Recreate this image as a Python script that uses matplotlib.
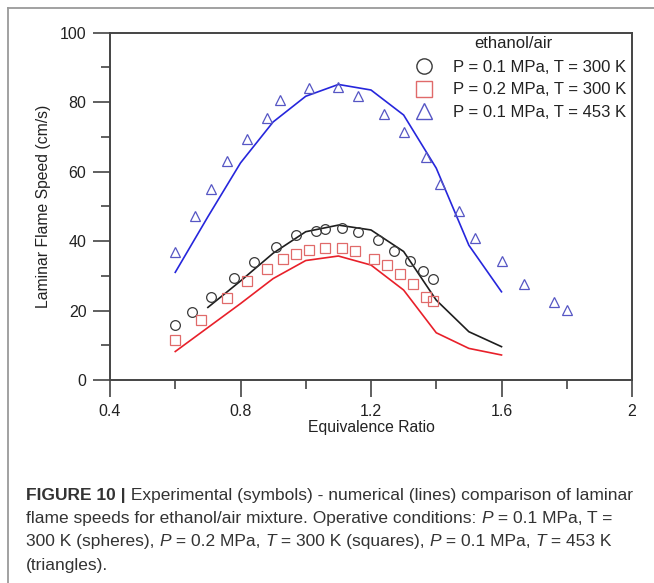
import matplotlib
matplotlib.use("Agg")
import matplotlib.pyplot as plt
from matplotlib.lines import Line2D
import numpy as np

plt.rcParams['font.family'] = ['Liberation Sans', 'DejaVu Sans']

# experimental points (symbols)
phi_c = [0.6, 0.65, 0.71, 0.78, 0.84, 0.91, 0.97, 1.03, 1.06, 1.11, 1.16, 1.22, 1.27, 1.32, 1.36, 1.39]
sl_c = [15.7, 19.7, 24.0, 29.5, 34.0, 38.2, 41.8, 43.0, 43.6, 43.9, 42.6, 40.3, 37.1, 34.3, 31.5, 29.1]

phi_s = [0.6, 0.68, 0.76, 0.82, 0.88, 0.93, 0.97, 1.01, 1.06, 1.11, 1.15, 1.21, 1.25, 1.29, 1.33, 1.37, 1.39]
sl_s = [11.5, 17.2, 23.5, 28.4, 31.9, 34.7, 36.3, 37.4, 38.1, 38.1, 37.1, 34.7, 33.2, 30.5, 27.5, 24.0, 22.7]

phi_t = [0.6, 0.66, 0.71, 0.76, 0.82, 0.88, 0.92, 1.01, 1.1, 1.16, 1.24, 1.3, 1.37, 1.41, 1.47,
         1.52, 1.6, 1.67, 1.76, 1.8]
sl_t = [36.9, 47.2, 54.9, 63.1, 69.4, 75.5, 80.6, 84.1, 84.3, 81.8, 76.7, 71.3, 64.3, 56.3, 48.6,
        41.0, 34.4, 27.6, 22.5, 20.1]

# numerical results (lines)
phi_k = [0.7, 0.8, 0.9, 1.0, 1.1, 1.2, 1.3, 1.4, 1.5, 1.6]
sl_k = [20.9, 28.5, 36.5, 42.7, 44.6, 43.2, 37.0, 23.0, 13.9, 9.6]

phi_r = [0.6, 0.7, 0.8, 0.9, 1.0, 1.1, 1.2, 1.3, 1.4, 1.5, 1.6]
sl_r = [8.2, 15.1, 22.0, 29.2, 34.4, 35.7, 33.1, 25.9, 13.6, 9.1, 7.2]

phi_b = [0.6, 0.7, 0.8, 0.9, 1.0, 1.1, 1.2, 1.3, 1.4, 1.5, 1.6]
sl_b = [31.0, 47.0, 62.5, 74.3, 81.7, 85.1, 83.5, 76.3, 61.0, 38.8, 25.4]

legend_title = 'ethanol/air'
legend_labels = ['P = 0.1 MPa, T = 300 K', 'P = 0.2 MPa, T = 300 K', 'P = 0.1 MPa, T = 453 K']

W, H = 654, 583
fig = plt.figure(figsize=(W / 100, H / 100), dpi=100)
ax = fig.add_axes([110 / W, 1 - 380 / H, 522 / W, (380 - 32.7) / H])

c_blk, c_red, c_blu = '#1e1e1e', '#e8202a', '#2626dc'
m_blk, m_red, m_blu = '#3a3a3a', '#e06a6a', '#5656c4'

ax.plot(phi_k, sl_k, color=c_blk, lw=1.2)
ax.plot(phi_r, sl_r, color=c_red, lw=1.2)
ax.plot(phi_b, sl_b, color=c_blu, lw=1.2)
ax.plot(phi_c, sl_c, 'o', ms=7, mfc='none', mec=m_blk, mew=0.9)
ax.plot(phi_s, sl_s, 's', ms=7, mfc='none', mec=m_red, mew=0.9)
ax.plot(phi_t, sl_t, '^', ms=6.5, mfc='none', mec=m_blu, mew=0.9)

ax.set_xlim(0.4, 2.0)
ax.set_ylim(0, 100)
ax.set_xticks([0.4, 0.8, 1.2, 1.6, 2.0])
ax.set_xticklabels(['0.4', '0.8', '1.2', '1.6', '2'])
ax.set_xticks(np.arange(0.6, 2.0, 0.4), minor=True)
ax.set_yticks(range(0, 101, 20))
ax.set_yticks(range(10, 100, 20), minor=True)
ax.tick_params(which='major', direction='out', length=12, width=1.2, color='#444',
               labelsize=11.5, labelcolor='#222', pad=5)
ax.tick_params(which='minor', direction='out', length=6.5, width=1.2, color='#444')
for s in ax.spines.values():
    s.set_color('#444')
    s.set_linewidth(1.4)

ax.set_xlabel('Equivalence Ratio', fontsize=11.3, color='#222', labelpad=1)
ax.set_ylabel('Laminar Flame Speed (cm/s)', fontsize=11.3, color='#222', labelpad=6)

handles = [
    Line2D([], [], ls='none', marker='o', ms=11, mfc='none', mec=m_blk, mew=1.0),
    Line2D([], [], ls='none', marker='s', ms=11, mfc='none', mec=m_red, mew=1.0),
    Line2D([], [], ls='none', marker='^', ms=11, mfc='none', mec=m_blu, mew=1.0),
]
leg = ax.legend(handles, legend_labels, loc='upper right',
                bbox_to_anchor=((626 - 110) / 522, (380 - 60) / 347.3),
                frameon=False, fontsize=12,
                handlelength=1.2, handletextpad=1.1, labelspacing=0.45,
                borderaxespad=0, borderpad=0)
for t in leg.get_texts():
    t.set_color('#222')
ax.text((513 - 110) / 522, (380 - 43) / 347.3, legend_title, transform=ax.transAxes,
        ha='center', va='center', fontsize=12, color='#222')

# outer frame of the figure panel
fig.add_artist(Line2D([8 / W, 8 / W], [0, 1 - 8 / H], transform=fig.transFigure, color='#9a9a9a', lw=1.3))
fig.add_artist(Line2D([8 / W, 1], [1 - 8 / H, 1 - 8 / H], transform=fig.transFigure, color='#9a9a9a', lw=1.3))

# caption, drawn piece by piece so bold and italic parts fit in line
cap_lines = [
    [('FIGURE 10 |', 'bold'), (' Experimental (symbols) - numerical (lines) comparison of laminar', 'normal')],
    [('flame speeds for ethanol/air mixture. Operative conditions: ', 'normal'), ('P', 'italic'),
     (' = 0.1 MPa, T =', 'normal')],
    [('300 K (spheres), ', 'normal'), ('P', 'italic'), (' = 0.2 MPa, ', 'normal'), ('T', 'italic'),
     (' = 300 K (squares), ', 'normal'), ('P', 'italic'), (' = 0.1 MPa, ', 'normal'), ('T', 'italic'),
     (' = 453 K', 'normal')],
    [('(triangles).', 'normal')],
]
fig.canvas.draw()
renderer = fig.canvas.get_renderer()
y0 = 500
for i, parts in enumerate(cap_lines):
    x = 26
    yb = y0 + i * 23.2
    for txt, style in parts:
        kw = dict(fontsize=12.5, color='#333', va='baseline', ha='left')
        if style == 'bold':
            kw['fontweight'] = 'bold'
        elif style == 'italic':
            kw['fontstyle'] = 'italic'
        t = fig.text(x / W, 1 - yb / H, txt, **kw)
        bb = t.get_window_extent(renderer)
        x += bb.width

fig.savefig('out.png', dpi=100)
